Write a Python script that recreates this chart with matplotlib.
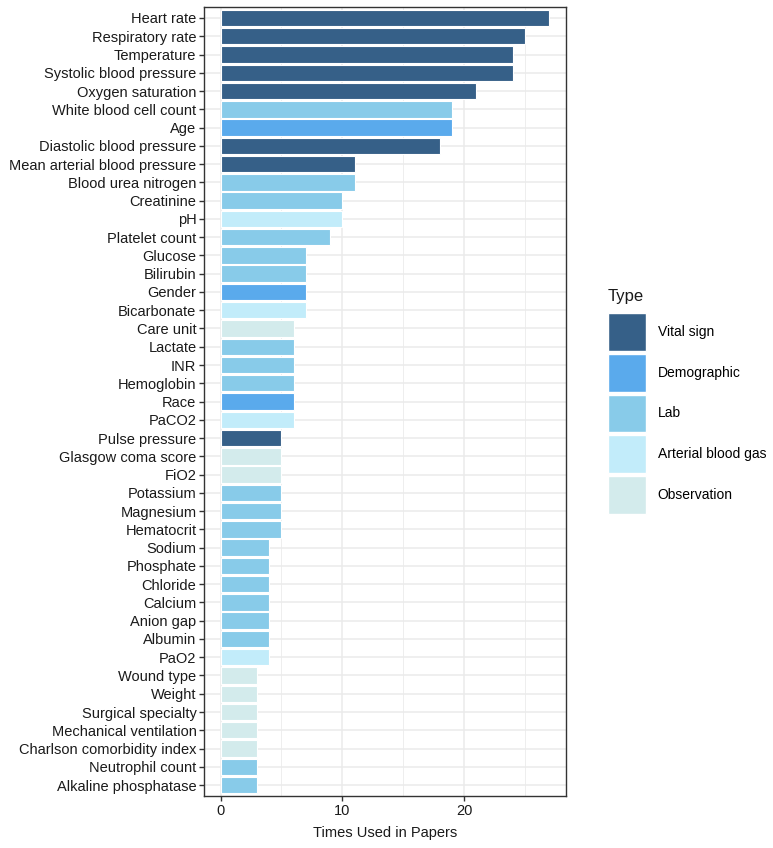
import matplotlib
matplotlib.use('Agg')
import matplotlib.pyplot as plt
import matplotlib.patches as patches
from matplotlib.ticker import MultipleLocator

plt.rcParams['font.family'] = ['Liberation Sans', 'DejaVu Sans']

# data, top to bottom as shown in the chart
features = ['Heart rate', 'Respiratory rate', 'Temperature', 'Systolic blood pressure',
            'Oxygen saturation', 'White blood cell count', 'Age', 'Diastolic blood pressure',
            'Mean arterial blood pressure', 'Blood urea nitrogen', 'Creatinine', 'pH',
            'Platelet count', 'Glucose', 'Bilirubin', 'Gender', 'Bicarbonate', 'Care unit',
            'Lactate', 'INR', 'Hemoglobin', 'Race', 'PaCO2', 'Pulse pressure',
            'Glasgow coma score', 'FiO2', 'Potassium', 'Magnesium', 'Hematocrit', 'Sodium',
            'Phosphate', 'Chloride', 'Calcium', 'Anion gap', 'Albumin', 'PaO2', 'Wound type',
            'Weight', 'Surgical specialty', 'Mechanical ventilation',
            'Charlson comorbidity index', 'Neutrophil count', 'Alkaline phosphatase']
counts = [27, 25, 24, 24, 21, 19, 19, 18, 11, 11, 10, 10, 9, 7, 7, 7, 7, 6, 6, 6, 6, 6, 6,
          5, 5, 5, 5, 5, 5, 4, 4, 4, 4, 4, 4, 4, 3, 3, 3, 3, 3, 3, 3]
types = ['Vital sign', 'Vital sign', 'Vital sign', 'Vital sign', 'Vital sign', 'Lab',
         'Demographic', 'Vital sign', 'Vital sign', 'Lab', 'Lab', 'Arterial blood gas',
         'Lab', 'Lab', 'Lab', 'Demographic', 'Arterial blood gas', 'Observation',
         'Lab', 'Lab', 'Lab', 'Demographic', 'Arterial blood gas', 'Vital sign',
         'Observation', 'Observation', 'Lab', 'Lab', 'Lab', 'Lab',
         'Lab', 'Lab', 'Lab', 'Lab', 'Lab', 'Arterial blood gas', 'Observation',
         'Observation', 'Observation', 'Observation',
         'Observation', 'Lab', 'Lab']
type_order = ['Vital sign', 'Demographic', 'Lab', 'Arterial blood gas', 'Observation']
type_colors = {'Vital sign': '#366088', 'Demographic': '#5aaaec', 'Lab': '#88cbe9',
               'Arterial blood gas': '#c2ecfa', 'Observation': '#d3ebec'}

fig = plt.figure(figsize=(7.73, 8.48), dpi=100)
ax = fig.add_axes([0.264, 0.0613, 0.468, 0.9304])

n = len(features)
ypos = list(range(n))[::-1]
ax.barh(ypos, counts, height=0.9, color=[type_colors[t] for t in types],
        edgecolor='white', linewidth=0.8, zorder=3)

ax.set_xlim(-1.35, 28.35)
ax.set_ylim(-0.6, n - 0.4)
ax.set_yticks(ypos)
ax.set_yticklabels(features)
ax.xaxis.set_major_locator(MultipleLocator(10))
ax.xaxis.set_minor_locator(MultipleLocator(5))
ax.grid(which='major', color='#ebebeb', linewidth=1.1, zorder=0)
ax.grid(which='minor', axis='x', color='#ebebeb', linewidth=0.6, zorder=0)
ax.set_axisbelow(True)

ax.tick_params(axis='both', which='major', labelsize=10.5, colors='#333333',
               length=3.5, width=1, labelcolor='#1a1a1a', pad=2)
ax.tick_params(axis='x', which='minor', length=0)
for s in ax.spines.values():
    s.set_color('#333333')
    s.set_linewidth(1)

ax.set_xlabel('Times Used in Papers', fontsize=10.5, color='#1a1a1a', labelpad=6)

# legend: title as separate text so the gap to the keys can be set
fig.text(0.7865, 1 - 301 / 848, 'Type', fontsize=12, color='#1a1a1a',
         ha='left', va='baseline')
handles = [patches.Patch(facecolor=type_colors[t], edgecolor='white', label=t)
           for t in type_order]
leg = fig.legend(handles=handles, loc='upper left',
                 bbox_to_anchor=(0.7865, 1 - 313 / 848), frameon=False, fontsize=10,
                 handlelength=2.73, handleheight=3.83,
                 labelspacing=0.2, handletextpad=0.86, borderaxespad=0,
                 borderpad=0)

fig.savefig('out.png', dpi=100)
